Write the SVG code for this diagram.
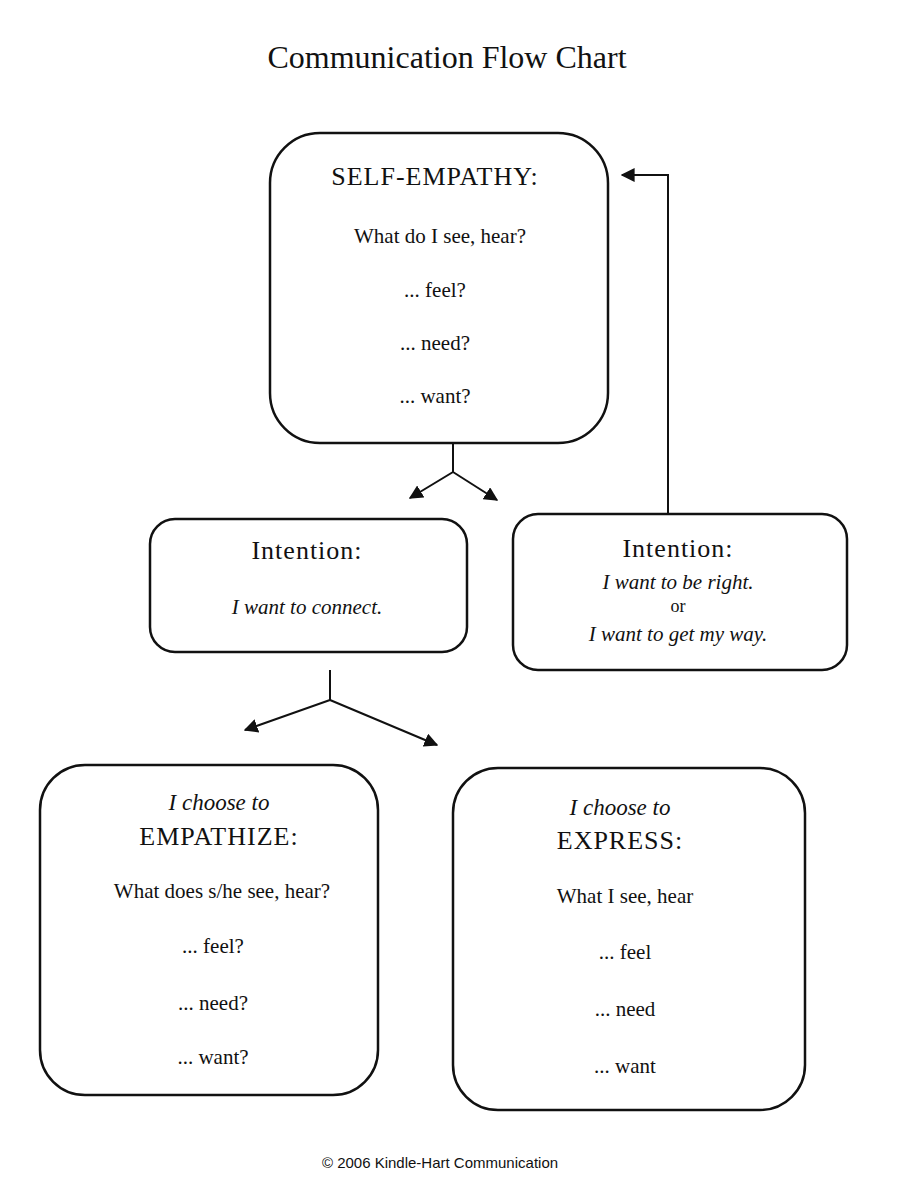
<svg xmlns="http://www.w3.org/2000/svg" width="900" height="1200" viewBox="0 0 900 1200">
<style>
.box{fill:#fff;stroke:#111;stroke-width:2.5}
.c{fill:none;stroke:#111;stroke-width:2}
text{font-family:"Liberation Serif","Times New Roman",serif;fill:#111;text-anchor:middle}
.h{font-size:26px;letter-spacing:1px}
.t{font-size:21px}
.i{font-size:21px;font-style:italic}
</style>
<defs><marker id="a" viewBox="0 0 10 10" refX="9" refY="5" markerWidth="7" markerHeight="7" orient="auto"><path d="M0,0L10,5L0,10z" fill="#111"/></marker></defs>
<rect width="900" height="1200" fill="#fff"/>
<text x="447" y="68" style="font-size:32px">Communication Flow Chart</text>
<g id="connectors">
<path class="c" d="M453,443V472L410,498" marker-end="url(#a)"/>
<path class="c" d="M453,472L497,500" marker-end="url(#a)"/>
<path class="c" d="M668,514V175H622" marker-end="url(#a)"/>
<path class="c" d="M330,670V700L245,730" marker-end="url(#a)"/>
<path class="c" d="M330,700L437,745" marker-end="url(#a)"/>
</g>
<g id="self-empathy">
<rect class="box" x="270" y="133" width="338" height="310" rx="50"/>
<text class="h" x="435" y="185">SELF-EMPATHY:</text>
<text class="t" x="440" y="243">What do I see, hear?</text>
<text class="t" x="435" y="297">... feel?</text>
<text class="t" x="435" y="350">... need?</text>
<text class="t" x="435" y="403">... want?</text>
</g>
<g id="intention-connect">
<rect class="box" x="150" y="519" width="317" height="133" rx="25"/>
<text class="h" x="307" y="559">Intention:</text>
<text class="i" x="307" y="614">I want to connect.</text>
</g>
<g id="intention-right">
<rect class="box" x="513" y="514" width="334" height="156" rx="25"/>
<text class="h" x="678" y="557">Intention:</text>
<text class="i" x="678" y="589">I want to be right.</text>
<text class="t" x="678" y="612" style="font-size:18px">or</text>
<text class="i" x="678" y="641">I want to get my way.</text>
</g>
<g id="empathize">
<rect class="box" x="40" y="765" width="338" height="330" rx="45"/>
<text class="i" x="219" y="810" style="font-size:23px">I choose to</text>
<text class="h" x="219" y="845">EMPATHIZE:</text>
<text class="t" x="222" y="898">What does s/he see, hear?</text>
<text class="t" x="213" y="953">... feel?</text>
<text class="t" x="213" y="1010">... need?</text>
<text class="t" x="213" y="1064">... want?</text>
</g>
<g id="express">
<rect class="box" x="453" y="768" width="352" height="342" rx="45"/>
<text class="i" x="620" y="815" style="font-size:23px">I choose to</text>
<text class="h" x="620" y="849">EXPRESS:</text>
<text class="t" x="625" y="903">What I see, hear</text>
<text class="t" x="625" y="959">... feel</text>
<text class="t" x="625" y="1016">... need</text>
<text class="t" x="625" y="1073">... want</text>
</g>
<text x="440" y="1168" style="font-family:'Liberation Sans',Arial,sans-serif;font-size:15px">© 2006 Kindle-Hart Communication</text>
</svg>
